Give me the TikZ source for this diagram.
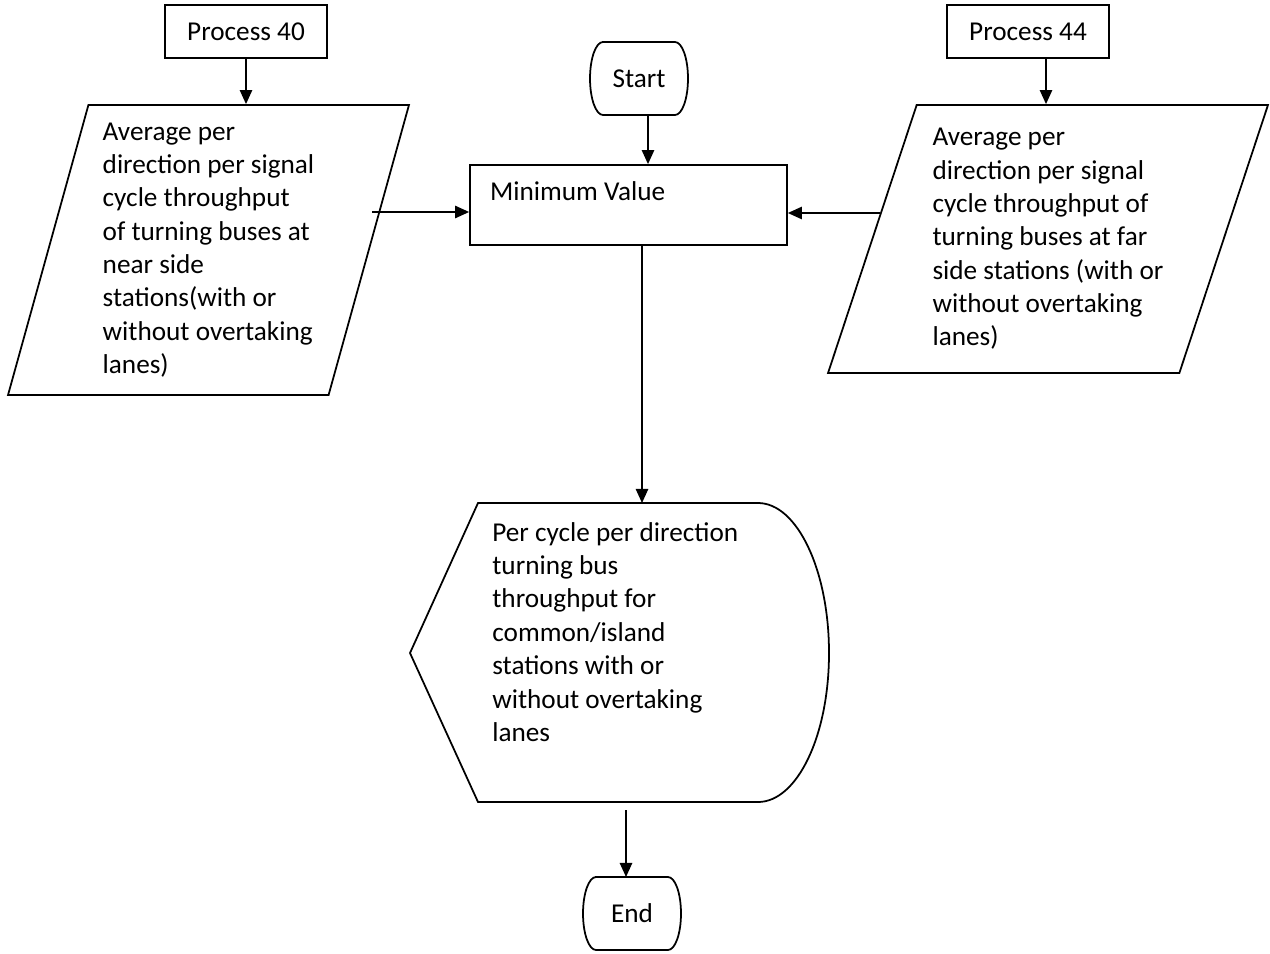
\documentclass[tikz,border=0pt]{standalone}
\usepackage{fontspec}
\setmainfont{Carlito}
\usetikzlibrary{arrows.meta,shapes.geometric,positioning}

% outline of a start/end terminal round node #1
\newcommand\termline[1]{%
  \draw[line width=1pt] ([xshift=0.26cm]#1.north west) -- ([xshift=-0.26cm]#1.north east)
    arc[start angle=90, end angle=-90, x radius=0.26cm, y radius=0.73cm]
    -- ([xshift=0.26cm]#1.south west)
    arc[start angle=270, end angle=90, x radius=0.26cm, y radius=0.73cm] -- cycle;}

\begin{document}
\begin{tikzpicture}[
    x=0.02cm, y=-0.02cm,
    font=\fontsize{15.5}{19}\selectfont,
    proc/.style={draw, line width=1pt, minimum width=3.24cm, minimum height=1.06cm},
    term/.style={minimum width=1.96cm, minimum height=1.46cm, outer sep=0pt},
    io/.style={draw, line width=1pt, trapezium, trapezium stretches body, align=left, inner sep=0pt},
    arr/.style={-{Triangle[length=8pt,width=7pt]}, line width=1pt}
]
\useasboundingbox (0,0) rectangle (1270,953);

\node[term] (start) at (639,78.5) {Start};
\termline{start}
\node[proc, minimum width=6.34cm, minimum height=1.6cm, text width=5.54cm, align=flush left, text height=0.45cm, text depth=0.65cm] (minv) at (628.5,205) {Minimum Value};
\node[proc] (p40) at (246,31.5) {Process 40};
\node[proc] (p44) at (1028,31.5) {Process 44};

\node[io, trapezium left angle=72.5, trapezium right angle=107.5, minimum width=8.02cm, minimum height=5.8cm] (nearIn) at (208.5,250)
  {Average per\\direction per signal\\cycle throughput\\of turning buses at\\near side\\stations(with or\\without overtaking\\lanes)};
\node[io, trapezium left angle=68.2, trapezium right angle=111.8, minimum width=8.8cm, minimum height=5.36cm] (farIn) at (1048,239)
  {Average per\\direction per signal\\cycle throughput of\\turning buses at far\\side stations (with or\\without overtaking\\lanes)};

% display shape
\draw[line width=1pt] (410,653) -- (478,503) -- (758,503) .. controls (797,503) and (829,570) .. (829,653)
  .. controls (829,736) and (797,802) .. (758,802) -- (478,802) -- cycle;
\node[align=left, anchor=west, inner sep=0pt] (outTxt) at (492,632)
  {Per cycle per direction\\turning bus\\throughput for\\common/island\\stations with or\\without overtaking\\lanes};

\node[term] (stop) at (632,913.5) {End};
\termline{stop}

\coordinate (sTap) at ([xshift=0.18cm]start.south);
\draw[arr] (sTap) -- (sTap |- minv.north);
\draw[arr] (p40.south) -- (p40.south |- nearIn.north);
\coordinate (p44Tap) at ([xshift=0.36cm]p44.south);
\draw[arr] (p44Tap) -- (p44Tap |- farIn.north);
\coordinate (nearTail) at (372,212);
\draw[arr] (nearTail) -- (nearTail -| minv.west);
\coordinate (farTail) at (880,213);
\draw[arr] (farTail) -- (farTail -| minv.east);
\coordinate (outTop) at (642,503);
\draw[arr] (outTop |- minv.south) -- (outTop);
\coordinate (stopTail) at (626,810);
\draw[arr] (stopTail) -- (stopTail |- stop.north);
\end{tikzpicture}
\end{document}
